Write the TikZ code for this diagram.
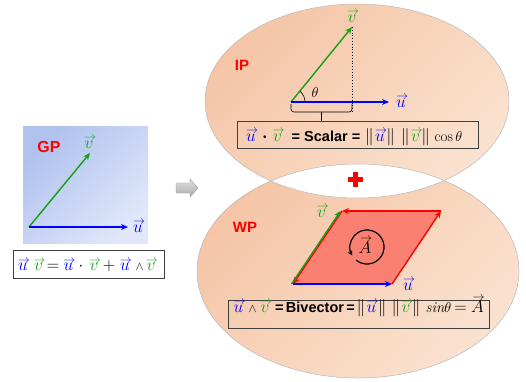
\documentclass[tikz,border=0pt]{standalone}
\usepackage{fontspec}
\usepackage{amsmath}
\setsansfont{Liberation Sans}
\usetikzlibrary{arrows.meta,shadows}
\definecolor{vblue}{RGB}{0,0,255}
\definecolor{vgreen}{RGB}{20,160,20}
\definecolor{vred}{RGB}{255,0,0}
\definecolor{salmonfill}{RGB}{250,128,114}
\definecolor{peachA}{RGB}{245,197,166}
\definecolor{peachB}{RGB}{250,226,208}
\definecolor{gpA}{RGB}{176,194,238}
\definecolor{gpB}{RGB}{224,231,249}
\newcommand\arrvec[3]{\mathord{\mbox{\color{#1}\ooalign{$#2$\cr\hidewidth\kern0.12em\raisebox{#3}{$\scriptstyle\rightarrow$}\hidewidth\cr}}}}
\newcommand\VU{\arrvec{vblue}{u}{0.40em}}
\newcommand\VV{\arrvec{vgreen}{v}{0.40em}}
\newcommand\VA{\arrvec{black}{A}{0.64em}}
\newcommand\nrm[1]{\left\|\mkern1.5mu#1\mkern1.5mu\right\|}
\newcommand\msz{\fontsize{18.5}{21}\selectfont}
\newcommand\tsz{\fontsize{14.5}{17}\selectfont\sffamily\bfseries}
\begin{document}
\begin{tikzpicture}[x=1pt,y=-1pt,
  vec/.style={line width=1.4pt,-{Stealth[length=7pt,width=6pt]}},
  lbl/.style={text=vred,font=\fontsize{15}{18}\selectfont\sffamily\bfseries,inner sep=0pt},
  vlab/.style={inner sep=0pt,anchor=base,font=\msz},
  fp/.style={inner sep=0pt,anchor=base,font=\msz},
  fbox/.style={draw=black!75,line width=0.8pt,inner sep=0pt},
  ellfill/.style={top color=peachA,bottom color=peachB,shading angle=45},
  elledge/.style={draw=gray!55,line width=0.5pt}]
\useasboundingbox (0,0) rectangle (526,381);

% ---- ellipses
\path[ellfill] (357,101) ellipse [x radius=152, y radius=97];
\path[ellfill] (358,271) ellipse [x radius=161, y radius=107];
\begin{scope}
  \clip (357,101) ellipse [x radius=152, y radius=97];
  \fill[white] (358,271) ellipse [x radius=161, y radius=107];
\end{scope}
\path[elledge] (357,101) ellipse [x radius=152, y radius=97];
\path[elledge] (358,271) ellipse [x radius=161, y radius=107];

% ---- GP panel
\node[top color=gpA,bottom color=gpB,shading angle=45,minimum width=125,minimum height=117,inner sep=0pt] (gp) at (85.5,184.5) {};
\node[lbl,font=\fontsize{16}{18}\selectfont\sffamily\bfseries] (gplbl) at (49,147) {GP};
\coordinate (O0) at (29,227);
\coordinate (V0) at (90,153);
\coordinate (U0) at (128,227);
\draw[vec,vgreen] (O0) -- (V0);
\draw[vec,vblue] (O0) -- (U0);
\node[vlab] (v0) at (89,148) {$\VV$};
\node[vlab] (u0) at (138,232) {$\VU$};
\node[fbox,fill=white,drop shadow={shadow xshift=1pt,shadow yshift=-1pt,opacity=0.35},minimum width=151,minimum height=28] (gpf) at (88.5,264) {};
\begin{scope}[fp/.append style={font=\fontsize{16.5}{19}\selectfont}]
\node[fp] (g1) at (23,270) {$\VU$};
\node[fp] (g2) at (38.5,270) {$\VV$};
\node[fp] (g3) at (53,270) {$=$};
\node[fp] (g4) at (68.5,270) {$\VU$};
\node[fp] (g5) at (81,270) {$\cdot$};
\node[fp] (g6) at (94,270) {$\VV$};
\node[fp] (g7) at (109,270) {$+$};
\node[fp] (g8) at (125,270) {$\VU$};
\node[fp,font=\fontsize{12}{14}\selectfont] (g9) at (139.5,270) {$\wedge$};
\node[fp] (g10) at (151,270) {$\VV$};
\end{scope}

% ---- gray arrow
\path[draw=gray!80,top color=gray!25,bottom color=gray!65,line width=0.4pt]
  (176,183) -- (190,183) -- (190,179) -- (198,188) -- (190,197) -- (190,193) -- (176,193) -- cycle;

% ---- IP
\node[lbl] (iplbl) at (242,65) {IP};
\coordinate (O1) at (291,102);
\coordinate (V1) at (352,27);
\coordinate (U1) at (389,102);
\coordinate (P1) at (352,112);
\draw[line width=0.8pt,dotted] (V1) -- (P1);
\draw[vec,vgreen] (O1) -- (V1);
\draw[vec,vblue] (O1) -- (U1);
\draw[line width=0.6pt] (305,102) arc[start angle=0,end angle=-51,radius=14];
\node[vlab,font=\fontsize{15}{18}\selectfont] (th) at (315,97) {$\theta$};
\node[vlab] (v1) at (352,22) {$\VV$};
\node[vlab] (u1) at (401,107) {$\VU$};
\coordinate (B1) at (291,104);
\coordinate (B2) at (352,104);
\coordinate (B3) at (321,112);
\coordinate (B4) at (321,121);
\draw[line width=0.6pt,rounded corners=3pt] (B1) |- (B3) -| (B2);
\draw[line width=0.6pt] (B3) -- (B4);
\node[fbox,minimum width=241,minimum height=27] (ipf) at (357.5,134.5) {};
\node[fp] (i1) at (251,141) {$\VU$};
\node[fp] (i2) at (265,141) {$\boldsymbol{\cdot}$};
\node[fp] (i3) at (277.5,141) {$\VV$};
\node[fp,font=\tsz] (i4) at (326,141) {= Scalar =};
\node[fp] (i5) at (380,141) {$\nrm{\VU}$};
\node[fp] (i6) at (415.5,141) {$\nrm{\VV}$};
\node[fp,font=\fontsize{15}{18}\selectfont] (i7) at (448.5,141) {$\cos\theta$};

% ---- plus
\fill[vred] (348,177) rectangle (363,182);
\fill[vred] (353,172) rectangle (358,187);

% ---- WP
\node[lbl] (wplbl) at (245,227) {WP};
\coordinate (BL) at (293,284);
\coordinate (BR) at (392,284);
\coordinate (TR) at (441,211);
\coordinate (TL) at (342,211);
\fill[salmonfill] (BL) -- (BR) -- (TR) -- (TL) -- cycle;
\draw[vec,vred] (BR) -- (TR);
\draw[vec,vred] (TR) -- (TL);
\draw[vec,vred] (TL) -- (BL);
\draw[vec,vgreen] ([xshift=-1.5pt]BL) -- ([xshift=-1.5pt]TL);
\draw[vec,vblue] (BL) -- (BR);
\node[vlab] (v2) at (321.5,217) {$\VV$};
\node[vlab] (u2) at (408,290) {$\VU$};
\node[vlab] (A) at (365,253) {$\VA$};
\draw[line width=1.2pt,-{Stealth[length=5pt,width=5pt]}] (356.07,260.02) arc[start angle=-230,end angle=-570,radius=17];
\node[fbox,minimum width=261,minimum height=28] (wpf) at (358.5,314) {};
\node[fp] (w1) at (238.5,312) {$\VU$};
\node[fp,font=\fontsize{12}{14}\selectfont] (w2) at (252.5,312) {$\wedge$};
\node[fp] (w3) at (265,312) {$\VV$};
\node[fp,font=\tsz] (w4) at (315,312) {=\,Bivector\,=};
\node[fp] (w5) at (371.5,312) {$\nrm{\VU}$};
\node[fp] (w6) at (406,312) {$\nrm{\VV}$};
\node[fp,font=\fontsize{15}{18}\selectfont] (w7) at (438.5,312) {$\mathit{sin}\theta$};
\node[fp] (w8) at (460.5,312) {$=$};
\node[fp] (w9) at (477.5,312) {$\VA$};
\end{tikzpicture}
\end{document}
